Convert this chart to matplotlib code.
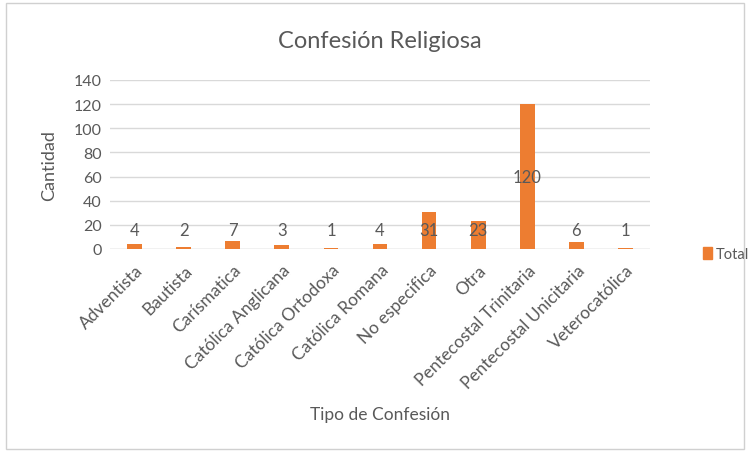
import matplotlib
matplotlib.use("Agg")
import matplotlib.pyplot as plt
from matplotlib.patches import Rectangle, Patch

categories = ["Adventista", "Bautista", "Carísmatica", "Católica Anglicana",
              "Católica Ortodoxa", "Católica Romana", "No especifica", "Otra",
              "Pentecostal Trinitaria", "Pentecostal Unicitaria", "Veterocatólica"]
values = [4, 2, 7, 3, 1, 4, 31, 23, 120, 6, 1]
yticks = [0, 20, 40, 60, 80, 100, 120, 140]

plt.rcParams['font.family'] = ['Lato', 'DejaVu Sans']
TXT = '#595959'
ORANGE = '#ED7D31'

fig = plt.figure(figsize=(7.48, 4.52), dpi=100)
ax = fig.add_axes([110/748, 1-250/452, 540/748, 169/452])

x = list(range(len(categories)))
ax.bar(x, values, width=0.3, color=ORANGE, zorder=3)
for xi, v in zip(x, values):
    ax.text(xi, max(v/2, 15.5), str(v), ha='center', va='center', fontsize=12, color=TXT, zorder=4)

ax.set_xlim(-0.5, len(categories)-0.5)
ax.set_ylim(0, 140)
ax.set_yticks(yticks)
ax.set_yticklabels([str(t) for t in yticks], fontsize=11.5, color=TXT)
ax.set_xticks(x)
ax.set_xticklabels(categories, rotation=45, ha='right', rotation_mode='anchor', fontsize=12.5, color=TXT)
ax.tick_params(axis='both', length=0, pad=6)
ax.tick_params(axis='x', pad=9)
ax.grid(axis='y', color='#D9D9D9', linewidth=1, zorder=0)
for s in ax.spines.values():
    s.set_visible(False)
ax.axhline(0, color='#D9D9D9', linewidth=1, zorder=2)

ax.set_ylabel('Cantidad', fontsize=13, color=TXT, labelpad=12)
fig.text(380/748, 1-415/452, 'Tipo de Confesión', ha='center', va='center', fontsize=12.5, color=TXT)
fig.text(380/748, 1-42/452, 'Confesión Religiosa', ha='center', va='center', fontsize=17, color=TXT)

leg = fig.legend(handles=[Patch(color=ORANGE, label='Total')], loc='center left',
                 bbox_to_anchor=(703/748, 1-255/452), frameon=False, fontsize=10.5,
                 handlelength=0.6, handleheight=0.9, handletextpad=0.3, borderpad=0,
                 borderaxespad=0)
for t in leg.get_texts():
    t.set_color(TXT)

fig.patches.append(Rectangle((6/748, 1-450/452), 738/748, 446/452, transform=fig.transFigure,
                             fill=False, edgecolor='#D0D0D0', linewidth=1))

fig.savefig('out.png', dpi=100)
